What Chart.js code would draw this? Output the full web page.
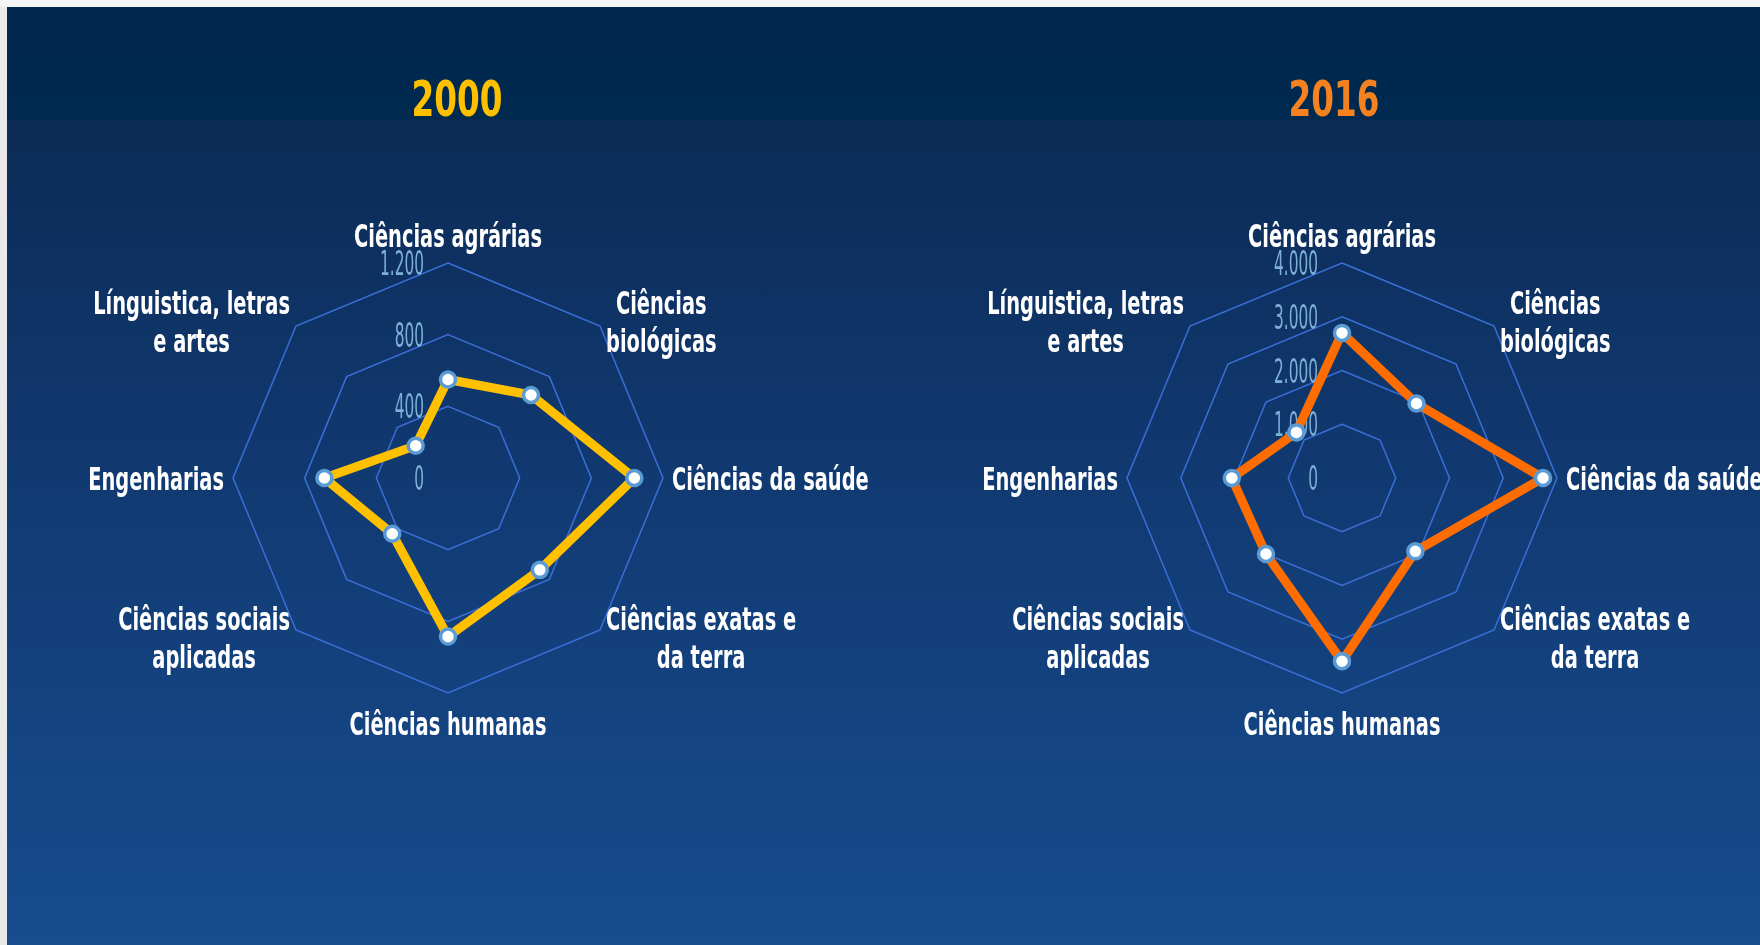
<!DOCTYPE html>
<html>
<head>
<meta charset="utf-8">
<script src="https://cdn.jsdelivr.net/npm/chart.js@4.4.1/dist/chart.umd.min.js"></script>
<style>
  html, body { margin: 0; padding: 0; }
  body { width: 1760px; height: 945px; overflow: hidden; background: #f5f5f5; position: relative; }
  #leftstrip { position: absolute; left: 0; top: 7px; width: 7px; height: 938px; background: #e9e9e9; }
  #bg { position: absolute; left: 7px; top: 7px; width: 1753px; height: 938px;
        background: linear-gradient(to bottom, #00284f 0px, #00294f 112px, #0c2b56 113px, #113a72 480px, #174c8f 938px); }
  .panel { position: absolute; top: 0; width: 880px; height: 945px; }
  .title { position: absolute; font-family: "Liberation Sans Narrow", "DejaVu Sans Condensed", "Liberation Sans", sans-serif;
           font-weight: bold; font-size: 49px; line-height: 1; white-space: nowrap; transform-origin: 50% 50%; }
</style>
</head>
<body>
<div id="leftstrip"></div>
<div id="bg"></div>
<div class="panel" style="left:0px"><canvas id="c2000"></canvas></div>
<div class="panel" style="left:880px"><canvas id="c2016"></canvas></div>
<div class="title" id="t2000"></div>
<div class="title" id="t2016"></div>
<script>
// ---------- data ----------
const categories = [
  'Ciências agrárias',
  ['Ciências', 'biológicas'],
  'Ciências da saúde',
  ['Ciências exatas e', 'da terra'],
  'Ciências humanas',
  ['Ciências sociais', 'aplicadas'],
  'Engenharias',
  ['Línguistica, letras', 'e artes']
];
const values2000 = [550, 655, 1040, 725, 885, 440, 690, 255];
const values2016 = [2700, 1960, 3740, 1930, 3410, 2000, 2050, 1200];
const tickValues2000 = [0, 400, 800, 1200];
const tickLabels2000 = ['0', '400', '800', '1.200'];
const tickValues2016 = [0, 1000, 2000, 3000, 4000];
const tickLabels2016 = ['0', '1.000', '2.000', '3.000', '4.000'];
const titleTexts = ['2000', '2016'];

// ---------- styles ----------
const LABEL_FAMILY = '"Liberation Sans Narrow", "DejaVu Sans Condensed", "Liberation Sans", sans-serif';
const measureCtx = document.createElement('canvas').getContext('2d');
function fitScale(font, text, target) {
  measureCtx.font = font;
  return target / measureCtx.measureText(text).width;
}
const LABEL_FONT = 'bold 32px ' + LABEL_FAMILY;
const LABEL_SX = fitScale(LABEL_FONT, 'Ciências agrárias', 188);
const TICK_FONT = '33px ' + LABEL_FAMILY;
const TICK_SX = fitScale(TICK_FONT, '1.200', 44);
const TEXT_DY = 3.5;

function drawText(ctx, text, x, y, align, font, sx, color) {
  ctx.save();
  ctx.font = font;
  ctx.fillStyle = color;
  ctx.textBaseline = 'middle';
  ctx.textAlign = align;
  ctx.translate(x, y);
  ctx.scale(sx, 1);
  ctx.fillText(text, 0, 0);
  ctx.restore();
}

const radarText = {
  id: 'radarText',
  beforeDatasetsDraw(chart, args, opts) {
    const r = chart.scales.r;
    const ctx = chart.ctx;
    opts.tickValues.forEach((v, i) => {
      const d = r.getDistanceFromCenterForValue(v);
      drawText(ctx, opts.tickLabels[i], r.xCenter - 24, r.yCenter - d + TEXT_DY, 'right', TICK_FONT, TICK_SX, '#7db0d6');
    });
  },
  afterDraw(chart) {
    const r = chart.scales.r;
    const ctx = chart.ctx;
    const labels = chart.data.labels;
    const n = labels.length;
    const lineH = 38;
    labels.forEach((lab, i) => {
      const lines = Array.isArray(lab) ? lab : [lab];
      const p = r.getPointPosition(i, r.drawingArea);
      ctx.save();
      ctx.font = LABEL_FONT;
      const widths = lines.map(t => ctx.measureText(t).width * LABEL_SX);
      ctx.restore();
      const maxW = Math.max(...widths);
      const frac = i / n; // 0 top, clockwise
      let cx, cy;
      if (frac === 0) { cx = p.x; cy = p.y - 28; }
      else if (frac === 0.5) { cx = p.x; cy = p.y + 30; }
      else if (frac === 0.25) { cx = p.x + 9 + maxW / 2; cy = p.y; }
      else if (frac === 0.75) { cx = p.x - 9 - maxW / 2; cy = p.y; }
      else if (frac < 0.5) { cx = p.x + 6 + maxW / 2; cy = p.y + (frac < 0.25 ? -5 : 7); }
      else { cx = p.x - 6 - maxW / 2; cy = p.y + (frac < 0.75 ? 7 : -5); }
      const top = cy - (lines.length - 1) * lineH / 2 + TEXT_DY;
      lines.forEach((t, k) => {
        drawText(ctx, t, cx, top + k * lineH, 'center', LABEL_FONT, LABEL_SX, '#ffffff');
      });
    });
  }
};

function makeChart(id, values, maxV, step, color, tickValues, tickLabels, padding) {
  return new Chart(document.getElementById(id), {
    type: 'radar',
    data: {
      labels: categories,
      datasets: [{
        data: values,
        borderColor: color,
        borderWidth: 9,
        fill: false,
        pointRadius: 7.5,
        pointBorderWidth: 3.5,
        pointBorderColor: '#5b9bd5',
        pointBackgroundColor: '#ffffff',
        tension: 0
      }]
    },
    options: {
      responsive: true,
      maintainAspectRatio: false,
      animation: false,
      layout: { padding: padding },
      plugins: {
        legend: { display: false },
        tooltip: { enabled: false },
        radarText: { tickValues: tickValues, tickLabels: tickLabels }
      },
      scales: {
        r: {
          min: 0,
          max: maxV,
          ticks: { display: false, stepSize: step },
          grid: { color: '#3b6fd8', lineWidth: 1.5, circular: false },
          angleLines: { display: false },
          pointLabels: { display: false }
        }
      }
    },
    plugins: [radarText]
  });
}

makeChart('c2000', values2000, 1200, 400, '#ffc000', tickValues2000, tickLabels2000,
  { left: 233, right: 217, top: 263, bottom: 252 });
makeChart('c2016', values2016, 4000, 1000, '#ff6d00', tickValues2016, tickLabels2016,
  { left: 247, right: 203, top: 263, bottom: 252 });

// titles
function placeTitle(id, text, cx, cy, color, targetW) {
  const el = document.getElementById(id);
  el.textContent = text;
  el.style.color = color;
  const sx = fitScale('bold 49px ' + LABEL_FAMILY, text, targetW);
  el.style.left = cx + 'px';
  el.style.top = cy + 'px';
  el.style.transform = 'translate(-50%, -50%) scaleX(' + sx + ')';
}
placeTitle('t2000', titleTexts[0], 457, 99, '#ffc000', 91);
placeTitle('t2016', titleTexts[1], 1334, 99, '#f58220', 91);
</script>
</body>
</html>
